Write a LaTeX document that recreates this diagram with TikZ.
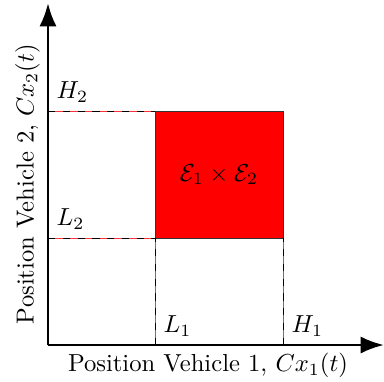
\documentclass[tikz,border=0pt]{standalone}
\usetikzlibrary{arrows.meta,positioning}
\tikzset{
  axis/.style={line width=1.2pt, -{Latex[length=9.5pt,width=7pt]}},
  guide/.style={line width=0.4pt, dashed, preaction={draw=red!80!white, line width=0.4pt, solid}},
  region/.style={draw=black!80, fill=red},
  bound/.style={anchor=south west}
}

\begin{document}
\begin{tikzpicture}[x=0.4065pt, y=0.4065pt]
    \useasboundingbox (-48,-36) rectangle (336,345);
    % corners of the set
    \coordinate (O) at (0,0);
    \coordinate (xend) at (336,0);
    \coordinate (yend) at (0,342);
    \coordinate (L1) at (107,0);
    \coordinate (H1) at (235,0);
    \coordinate (L2) at (0,107);
    \coordinate (H2) at (0,234);
    \coordinate (low) at (107,107);
    \coordinate (high) at (235,234);
    \coordinate (lowH1) at (235,107);
    \coordinate (highL1) at (107,234);
    \draw[region] (low) rectangle (high);
    \node (set) at (171,170.5) {$\mathcal{E}_1 \times \mathcal{E}_2$};
    % dashed bounds
    \draw[guide] (L1) -- (low);
    \draw[guide] (H1) -- (lowH1);
    \draw[guide] (L2) -- (low);
    \draw[guide] (H2) -- (highL1);
    \node[bound] (l1) at (L1) {$L_1$};
    \node[bound] (h1) at (H1) {$H_1$};
    \node[bound] (l2) at (L2) {$L_2$};
    \node[bound] (h2) at (H2) {$H_2$};
    % axes
    \draw[axis] (O) -- (xend);
    \draw[axis] (O) -- (yend);
    \node (xlabel) at (160,-20.5) {Position Vehicle 1, $Cx_1(t)$};
    \node[rotate=90] (ylabel) at (-20.5,161) {Position Vehicle 2, $Cx_2(t)$};
  \end{tikzpicture}
\end{document}
